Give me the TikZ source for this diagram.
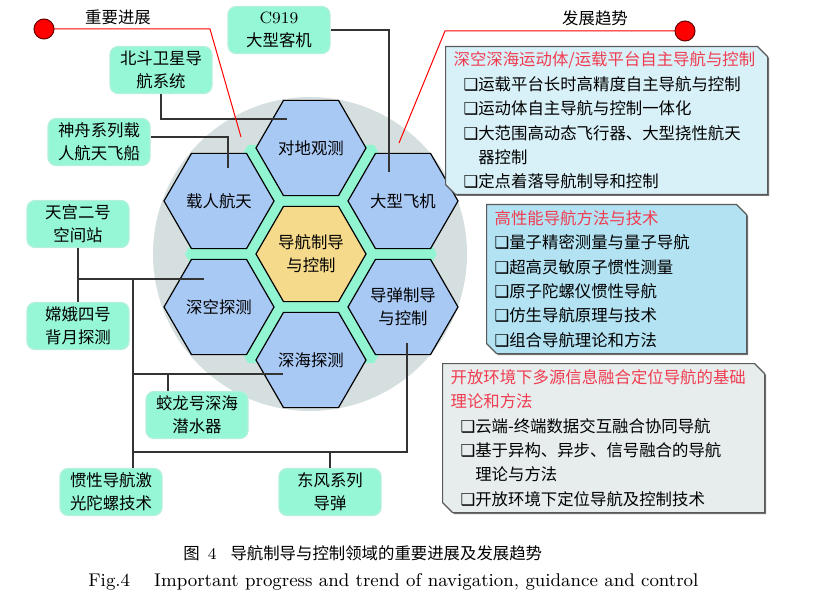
\documentclass[tikz,border=0pt]{standalone}
\usepackage{fontspec}
\newfontfamily\cjk{Noto Sans CJK SC}
\newfontfamily\symf{DejaVu Sans}
\usetikzlibrary{shapes.geometric,shapes.misc,shadows}

\definecolor{mintfill}{HTML}{96F7D6}
\definecolor{mintline}{HTML}{B5EFDD}
\definecolor{hexblue}{HTML}{A9C9F5}
\definecolor{hexcore}{HTML}{F5DA8C}
\definecolor{ringgreen}{HTML}{92F5D2}
\definecolor{diskgray}{HTML}{D6DFDF}
\definecolor{panelA}{HTML}{D8F1F8}
\definecolor{panelB}{HTML}{B3E3F3}
\definecolor{panelC}{HTML}{E7EDED}
\definecolor{titlered}{HTML}{F03C50}
\definecolor{linkgray}{HTML}{333333}

\newcommand{\bul}{{\symf ❑}}
\newcommand{\ttl}[1]{{\color{titlered}#1}}

\begin{document}
\begin{tikzpicture}[
x=0.5pt,y=-0.5pt,
every node/.style={
inner sep=0pt,
font=\cjk\fontsize{8.2pt}{11.5pt}\selectfont
},
hexcell/.style={
regular polygon,
regular polygon sides=6,
minimum size=55pt,
draw=black,
line width=0.6pt,
fill=hexblue,
align=center
},
event/.style={
draw=mintline,
line width=0.6pt,
fill=mintfill,
rounded corners=4pt,
minimum width=51pt,
minimum height=23.5pt,
align=center
},
trendbox/.style={
chamfered rectangle,
chamfered rectangle corners={north east,south west},
chamfered rectangle xsep=2.5pt,
chamfered rectangle ysep=2.5pt,
draw=black!65,
line width=0.6pt,
align=left,
inner xsep=1.5pt,
anchor=north west,
font=\cjk\fontsize{8.2pt}{12.2pt}\selectfont,
drop shadow={shadow xshift=0.7pt,shadow yshift=-0.7pt,fill=black!55,opacity=1}
},
link/.style={draw=linkgray,line width=0.6pt},
redline/.style={draw=red,line width=0.5pt},
reddot/.style={circle,minimum size=10pt,fill=red,draw=black!60!red,line width=0.5pt}
]

\useasboundingbox (0,0) rectangle (824,604);

% disk and hexagons
\node[circle,minimum size=157pt,fill=diskgray] (disk) at (310,254) {};
\node[regular polygon,regular polygon sides=6,minimum size=126pt,fill=ringgreen] (ring) at (311,254) {};

\node[hexcell,fill=hexcore] (core) at (311,254) {导航制导\\与控制};
\node[hexcell] (obs) at (311,148) {对地观测};
\node[hexcell] (crew) at (219,201) {载人航天};
\node[hexcell] (plane) at (403,201) {大型飞机};
\node[hexcell] (space) at (219,307) {深空探测};
\node[hexcell] (msl) at (403,307) {导弹制导\\与控制};
\node[hexcell] (sea) at (311,360) {深海探测};

% important progress
\node[event] (c919) at (279,30) {\rmfamily C919\\大型客机};
\node[event] (beidou) at (161,70) {北斗卫星导\\航系统};
\node[event] (shenzhou) at (99,142) {神舟系列载\\人航天飞船};
\node[event] (tiangong) at (78,224) {天宫二号\\空间站};
\node[event] (change) at (78,326) {嫦娥四号\\背月探测};
\node[event] (jiaolong) at (197,415) {蛟龙号深海\\潜水器};
\node[event] (guanxing) at (111,492) {惯性导航激\\光陀螺技术};
\node[event] (dongfeng) at (330,492) {东风系列\\导弹};

\coordinate (pPlane) at (389,172);
\coordinate (pObs) at (287,119);
\coordinate (pCrew) at (228,168);
\coordinate (pSpace) at (204,279);
\coordinate (pSea) at (283,374);
\coordinate (pMsl) at (407,343);
\coordinate (jA) at (133,279);
\coordinate (jB) at (168,374);
\coordinate (jC) at (407,452);

\draw[link] (c919.east) -| (pPlane);
\draw[link] (beidou.south) |- (pObs);
\draw[link] ([yshift=2.5pt]shenzhou.east) -| (pCrew);
\draw[link] (tiangong.south) -- (change.north);
\draw[link] (tiangong.south |- pSpace) -- (pSpace);
\draw[link] (jA) -- (jA |- guanxing.north);
\draw[link] (jA |- pSea) -- (pSea);
\draw[link] (jB) -- (jB |- jiaolong.north);
\draw[link] (jA |- jC) -- (jC) -- (pMsl);
\draw[link] (dongfeng.north |- jC) -- (dongfeng.north);

% headings
\node (progress) at (118,17) {重要进展};
\node (trend) at (595,18) {发展趋势};

\coordinate (cL) at (44,29);
\coordinate (bendL) at (210,29);
\coordinate (tipL) at (241,137);
\coordinate (cR) at (685,31);
\coordinate (bendR) at (445,31);
\coordinate (tipR) at (399,143);
\draw[redline] (cL) -- (bendL) -- (tipL);
\draw[redline] (cR) -- (bendR) -- (tipR);
\node[reddot] (dotL) at (cL) {};
\node[reddot] (dotR) at (cR) {};

% development trend
\node[trendbox,fill=panelA,minimum width=156.5pt,minimum height=74pt,text width=153pt] (trendA) at (445,46)
{\ttl{深空深海运动体/运载平台自主导航与控制}\\
\hspace*{5pt}\bul{}运载平台长时高精度自主导航与控制\\
\hspace*{5pt}\bul{}运动体自主导航与控制一体化\\
\hspace*{5pt}\bul{}大范围高动态飞行器、大型挠性航天\\
\hspace*{5pt}\phantom{\bul}器控制\\
\hspace*{5pt}\bul{}定点着落导航制导和控制};

\node[trendbox,fill=panelB,minimum width=125.5pt,minimum height=74.5pt,text width=122pt] (trendB) at (486,204)
{\ttl{高性能导航方法与技术}\\
\bul{}量子精密测量与量子导航\\
\bul{}超高灵敏原子惯性测量\\
\bul{}原子陀螺仪惯性导航\\
\bul{}仿生导航原理与技术\\
\bul{}组合导航理论和方法};

\node[trendbox,fill=panelC,minimum width=156.5pt,minimum height=74.5pt,text width=153pt] (trendC) at (442,363)
{\ttl{开放环境下多源信息融合定位导航的基础}\\
\ttl{理论和方法}\\
\hspace*{5pt}\bul{}云端-终端数据交互融合协同导航\\
\hspace*{5pt}\bul{}基于异构、异步、信号融合的导航\\
\hspace*{5pt}\phantom{\bul}理论与方法\\
\hspace*{5pt}\bul{}开放环境下定位导航及控制技术};

% caption
\node[anchor=west] (capzh) at (183,553) {图\hspace{4pt}{\rmfamily 4}\hspace{7pt}导航制导与控制领域的重要进展及发展趋势};
\node[anchor=west,font=\rmfamily\fontsize{9.2pt}{11pt}\selectfont] (capen) at (88,582) {Fig.4\hspace{12pt}Important progress and trend of navigation, guidance and control};

\end{tikzpicture}
\end{document}
